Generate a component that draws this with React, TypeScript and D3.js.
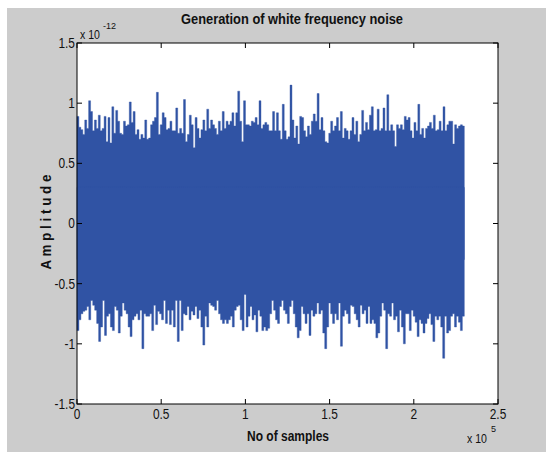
import React from "react";
import * as d3 from "d3";

// amplitude envelope (x 1e-12), ~2px bins
const upperEnv = [
  0.89, 0.8, 0.78, 0.74, 0.86, 0.79, 1.02, 0.93, 0.77, 0.86, 0.79, 0.9, 0.77, 0.79, 0.89, 0.68, 0.88, 0.67, 0.97, 0.75,
  0.94, 0.85, 0.75, 0.74, 0.85, 0.81, 0.82, 1.01, 0.84, 0.93, 0.74, 0.78, 0.7, 0.74, 0.71, 0.86, 0.7, 0.71, 0.82, 0.85,
  0.88, 1.09, 0.74, 0.82, 0.92, 0.88, 0.78, 0.79, 0.85, 0.77, 0.77, 0.96, 0.75, 0.79, 0.75, 1.03, 0.68, 0.74, 0.9, 0.82,
  0.63, 0.88, 0.79, 0.71, 0.78, 0.86, 0.77, 0.95, 0.79, 0.86, 0.82, 0.79, 0.74, 0.85, 0.77, 0.93, 0.79, 0.85, 0.82, 0.85,
  0.92, 0.81, 0.92, 1.1, 0.85, 0.68, 1.02, 0.82, 0.82, 0.81, 0.85, 0.84, 0.88, 0.82, 1.02, 0.79, 0.82, 0.84,
  0.82, 0.77, 0.77, 0.93, 0.77, 0.92, 0.77, 0.7, 0.99, 0.77, 0.7, 0.72, 1.15, 0.86, 0.71, 0.81, 0.66, 0.89, 0.88, 0.77,
  0.72, 0.81, 0.74, 0.85, 0.91, 0.85, 1.08, 0.78, 0.88, 0.77, 0.68, 0.67, 0.75, 0.85, 0.77, 0.81, 0.88, 0.77, 0.93, 0.71,
  0.79, 0.77, 0.7, 0.77, 0.88, 0.74, 0.85, 0.68, 0.74, 0.94, 0.77, 0.84, 0.78, 0.9, 0.97, 0.77, 0.78, 0.95, 0.77, 0.79,
  0.96, 0.77, 1.07, 0.77, 0.82, 0.77, 0.64, 0.82, 0.79, 0.82, 0.78, 0.89, 0.86, 0.88, 0.77, 0.71, 0.84, 0.77, 0.99, 0.74,
  0.79, 0.71, 0.79, 0.81, 0.84, 0.79, 0.9, 0.77, 0.78, 0.85, 0.77, 0.97, 0.77, 0.82, 0.85, 0.85, 0.66, 0.82, 0.79, 0.81,
  0.82, 0.81,
];

const lowerEnv = [
  -0.89, -0.8, -0.75, -0.73, -0.72, -0.69, -0.8, -0.64, -0.68, -0.72, -0.83, -0.98, -0.86, -0.64, -0.93, -0.77, -0.75, -0.86, -0.89, -0.69,
  -0.72, -0.91, -0.77, -0.66, -0.72, -0.75, -0.86, -0.94, -0.8, -0.77, -0.75, -0.8, -0.72, -1.04, -0.75, -0.77, -0.77, -0.75, -0.89, -0.68,
  -0.84, -0.73, -0.75, -0.8, -0.64, -0.83, -0.72, -0.84, -0.72, -0.86, -0.64, -0.98, -0.64, -0.89, -0.75, -0.76, -0.69, -0.8, -0.73, -0.76,
  -0.69, -0.79, -0.72, -0.86, -1.01, -0.77, -0.86, -0.66, -0.68, -0.69, -0.72, -0.64, -0.75, -0.8, -0.83, -0.8, -0.83, -0.8, -0.77, -0.86,
  -0.72, -0.69, -0.68, -0.8, -0.89, -0.59, -0.86, -0.77, -0.69, -0.8, -0.76, -0.9, -0.72, -0.77, -0.89, -0.86, -0.89, -0.87,
  -0.75, -0.64, -0.72, -0.8, -0.83, -0.69, -0.64, -0.72, -0.75, -0.83, -0.69, -0.64, -0.75, -0.86, -0.95, -0.89, -0.69, -0.75, -0.83, -0.75,
  -0.93, -0.72, -0.77, -0.75, -0.66, -0.75, -0.72, -0.91, -1.04, -0.86, -0.66, -0.75, -0.83, -0.75, -0.8, -0.66, -1.02, -0.77, -0.72, -0.75,
  -0.83, -0.68, -0.69, -0.75, -0.8, -0.86, -0.68, -0.75, -0.72, -0.83, -0.69, -0.83, -0.8, -0.83, -0.95, -0.91, -0.77, -0.66, -0.72, -1.04,
  -0.75, -0.77, -0.66, -0.8, -0.77, -0.9, -0.72, -0.86, -1.0, -0.75, -0.75, -0.89, -0.72, -0.77, -0.82, -0.94, -0.8, -0.83, -0.91, -0.83,
  -0.79, -0.75, -0.84, -0.98, -0.77, -0.8, -0.77, -0.86, -1.12, -0.77, -0.91, -0.89, -0.77, -0.75, -0.86, -0.77, -0.82, -0.89, -0.77,
];

const sampleCount = 230000;
const xTicks = [0, 0.5, 1, 1.5, 2, 2.5];
const yTicks = [-1.5, -1, -0.5, 0, 0.5, 1, 1.5];

const W = 546;
const H = 452;
const left = 77, right = 498, top = 43, bottom = 404;
const blue = "#3053a4";
const font = "'Liberation Sans', Arial, sans-serif";

export default function App() {
  const x = d3.scaleLinear().domain([0, 2.5e5]).range([left, right]);
  const y = d3.scaleLinear().domain([-1.5, 1.5]).range([bottom, top]);

  // each half of the trace is filled from past the zero line so the two overlap without a seam
  const envArea = (env: number[], base: number) => {
    const bin = d3.scaleLinear().domain([0, env.length]).range([0, sampleCount]);
    const pts = env.concat([env[env.length - 1]]);
    return d3
      .area<number>()
      .x((_, i) => x(bin(i)))
      .y0(y(base))
      .y1((d) => y(d))
      .curve(d3.curveStepAfter)(pts) as string;
  };

  return (
    <div style={{ position: "absolute", left: 0, top: 0 }}>
      <svg width={W} height={H} style={{ display: "block" }} fontFamily={font}>
        <rect x={0} y={0} width={W} height={H} fill="#fff" />
        <rect x={7} y={8} width={W - 7} height={H - 8} fill="#cccccc" />
        <rect x={left} y={top} width={right - left} height={bottom - top} fill="#fff" />

        <path d={envArea(upperEnv, -0.3)} fill={blue} stroke={blue} strokeWidth={0.4} />
        <path d={envArea(lowerEnv, 0.3)} fill={blue} stroke={blue} strokeWidth={0.4} />

        <rect x={left} y={top} width={right - left} height={bottom - top} fill="none" stroke="#000" strokeWidth={1} />

        {/* ticks */}
        <g stroke="#000" strokeWidth={1}>
          {xTicks.map((t) => (
            <g key={"xt" + t}>
              <line x1={x(t * 1e5)} x2={x(t * 1e5)} y1={bottom} y2={bottom - 5} />
              <line x1={x(t * 1e5)} x2={x(t * 1e5)} y1={top} y2={top + 5} />
            </g>
          ))}
          {yTicks.map((t) => (
            <g key={"yt" + t}>
              <line x1={left} x2={left + 5} y1={y(t)} y2={y(t)} />
              <line x1={right} x2={right - 5} y1={y(t)} y2={y(t)} />
            </g>
          ))}
        </g>

        <g fontSize={14} fill="#111">
          {xTicks.map((t) => (
            <text key={"xl" + t} x={x(t * 1e5)} y={419} textAnchor="middle" transform={`translate(${x(t * 1e5)},0) scale(0.85,1) translate(${-x(t * 1e5)},0)`}>
              {t}
            </text>
          ))}
          {yTicks.map((t) => (
            <text key={"yl" + t} x={75} y={y(t) + 5} textAnchor="end" transform={`translate(75,0) scale(0.85,1) translate(-75,0)`}>
              {t}
            </text>
          ))}
        </g>

        <text x={80} y={39} fontSize={13} fill="#111" textLength={20} lengthAdjust="spacingAndGlyphs">x 10</text>
        <text x={103} y={29} fontSize={9} fill="#111">-12</text>
        <text x={467} y={443} fontSize={13} fill="#111" textLength={20} lengthAdjust="spacingAndGlyphs">x 10</text>
        <text x={491} y={432} fontSize={9} fill="#111">5</text>

        <text x={292} y={24} fontSize={14} fontWeight="bold" fill="#111" textAnchor="middle" textLength={222} lengthAdjust="spacingAndGlyphs">
          Generation of white frequency noise
        </text>
        <text x={288} y={441} fontSize={14} fontWeight="bold" fill="#111" textAnchor="middle" textLength={82} lengthAdjust="spacingAndGlyphs">
          No of samples
        </text>
        <text
          transform="translate(51,222) rotate(-90)"
          textAnchor="middle"
          fontSize={14}
          fontWeight="bold"
          fill="#111"
          textLength={95}
          lengthAdjust="spacingAndGlyphs"
        >
          A m p l i t u d e
        </text>
      </svg>
    </div>
  );
}
